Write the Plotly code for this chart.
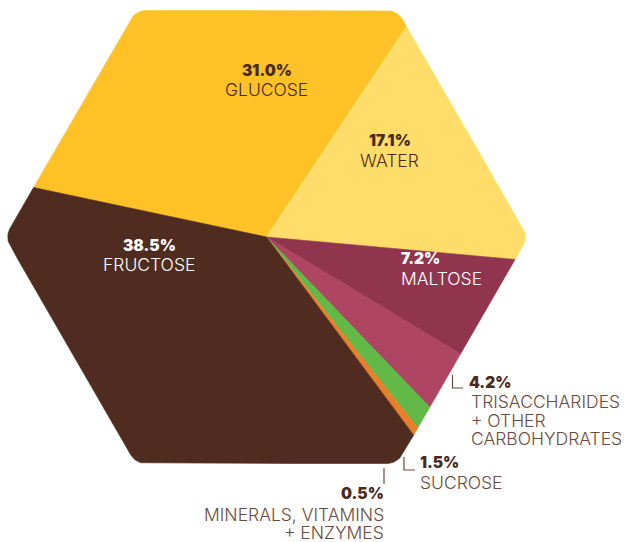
import numpy as np
import plotly.graph_objects as go

# ---------------- data ----------------
categories = ["Fructose", "Glucose", "Water", "Maltose",
              "Trisaccharides + other carbohydrates", "Sucrose",
              "Minerals, vitamins + enzymes"]
values = [38.5, 31.0, 17.1, 7.2, 4.2, 1.5, 0.5]
pct_text = ["38.5%", "31.0%", "17.1%", "7.2%", "4.2%", "1.5%", "0.5%"]
name_lines = [["FRUCTOSE"], ["GLUCOSE"], ["WATER"], ["MALTOSE"],
              ["TRISACCHARIDES", "+ OTHER", "CARBOHYDRATES"], ["SUCROSE"],
              ["MINERALS, VITAMINS", "+ ENZYMES"]]

# ---------------- styling ----------------
colors = ["#4F2C1F", "#FEC227", "#FFDD6B", "#91354F", "#AE4562", "#62B947", "#E8802A"]
W, H = 629, 542
CX, CY = 266.5, 237.0          # hexagon centre (pixels, y down)
INR, RC = 226.5, 18.0          # inradius, corner rounding
START_DEG = 168.0              # boundary where the clockwise sweep begins
draw_order = [1, 2, 3, 4, 5, 6, 0]

# rounded hexagon outline -> polar radius lookup
rs = (INR - RC) / np.cos(np.pi / 6)
pts = []
for k in range(6):
    phi = np.radians(60 * k)
    vc = np.array([rs * np.cos(phi), rs * np.sin(phi)])
    a = np.linspace(phi - np.pi / 6, phi + np.pi / 6, 40)
    arc = vc[None, :] + RC * np.c_[np.cos(a), np.sin(a)]
    pts.append(arc)
    phn = np.radians(60 * (k + 1))
    vn = np.array([rs * np.cos(phn), rs * np.sin(phn)])
    p0 = arc[-1]
    p1 = vn + RC * np.array([np.cos(phn - np.pi / 6), np.sin(phn - np.pi / 6)])
    t = np.linspace(0, 1, 300)[1:-1]
    pts.append(p0[None, :] + t[:, None] * (p1 - p0)[None, :])
pts = np.vstack(pts)
ang = np.mod(np.arctan2(pts[:, 1], pts[:, 0]), 2 * np.pi)
rad = np.hypot(pts[:, 0], pts[:, 1])
o = np.argsort(ang)
ang, rad = ang[o], rad[o]


def radius(th):
    return np.interp(np.mod(th, 2 * np.pi), ang, rad, period=2 * np.pi)


total = sum(values)
fig = go.Figure()
cur = np.radians(START_DEG)
for i in draw_order:
    span = 2 * np.pi * values[i] / total
    th = np.linspace(cur, cur - span, max(3, int(np.degrees(span) * 4)))
    r = radius(th)
    xs = np.r_[CX, CX + r * np.cos(th), CX]
    ys = np.r_[CY, CY - r * np.sin(th), CY]
    fig.add_trace(go.Scatter(x=xs, y=ys, fill="toself", fillcolor=colors[i],
                             mode="lines", line=dict(color=colors[i], width=0.6),
                             hoverinfo="text", text=categories[i], showlegend=False))
    cur -= span

# ---------------- labels ----------------
NUMF = "Inter"
NAMEF = "Inter"
dark = "#4A2A1E"
mid = "#6B4B3E"
white = "#FFFFFF"
NUM_SIZE = 15.5
NAME_SIZE = 17.5

# (x, pct_y, first_name_y, xanchor, pct colour, name colour)
label_pos = {
    0: (149, 245.5, 264, "center", white, white),
    1: (266.5, 70, 89, "center", dark, dark),
    2: (389.5, 140, 160.5, "center", dark, dark),
    3: (399, 258.5, 278, "left", white, white),
    4: (467, 382.5, 401.5, "left", dark, mid),
    5: (418, 462.5, 482, "left", dark, mid),
    6: (386, 493.5, 514, "right", dark, mid),
}
LINE = 18.5
for i, (x, py, ny, xa, pc, nc) in label_pos.items():
    fig.add_annotation(x=x, y=py, text=pct_text[i], showarrow=False, xanchor=xa,
                       yanchor="middle",
                       font=dict(family=NUMF, size=NUM_SIZE, color=pc, weight=900))
    for j, ln in enumerate(name_lines[i]):
        fig.add_annotation(x=x + (2 if (xa == "left" and i == 4) else 0), y=ny + j * LINE,
                           text=ln, showarrow=False, xanchor=xa, yanchor="middle",
                           font=dict(family=NAMEF, size=NAME_SIZE, color=nc, weight=300))

# leader marks
lc = dict(color=mid, width=1.2)
fig.add_shape(type="path", path="M 452.5 375 L 452.5 388 L 463 388", line=lc, xref="x", yref="y")
fig.add_shape(type="path", path="M 404 457 L 404 470 L 415 470", line=lc, xref="x", yref="y")
fig.add_shape(type="line", x0=384, x1=384, y0=468, y1=484, line=lc, xref="x", yref="y")

fig.update_layout(
    width=W, height=H, margin=dict(l=0, r=0, t=0, b=0),
    paper_bgcolor="white", plot_bgcolor="white",
    xaxis=dict(range=[0, W], visible=False, fixedrange=True),
    yaxis=dict(range=[H, 0], visible=False, fixedrange=True),
    showlegend=False,
)
fig.write_html("out.html")
